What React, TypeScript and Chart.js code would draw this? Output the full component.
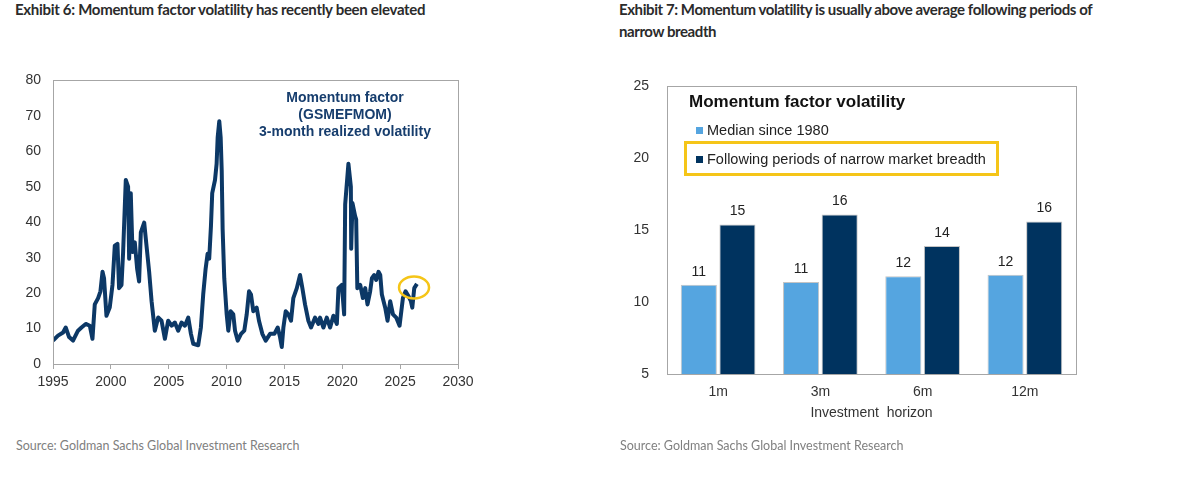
import React, { useEffect, useRef } from "react";
import { Chart, registerables } from "chart.js";

Chart.register(...registerables);

// ---------- Exhibit 6 data ----------
const volYears: number[] = [
  1995.0, 1995.43, 1995.87, 1996.1, 1996.39, 1996.73, 1997.16, 1997.46, 1997.83, 1998.18,
  1998.41, 1998.61, 1998.9, 1999.1, 1999.28, 1999.41, 1999.62, 1999.9, 2000.14, 2000.34,
  2000.57, 2000.71, 2000.92, 2001.06, 2001.29, 2001.49, 2001.58, 2001.72, 2001.87, 2002.07,
  2002.27, 2002.44, 2002.59, 2002.88, 2003.08, 2003.31, 2003.52, 2003.8, 2004.09, 2004.38,
  2004.67, 2004.95, 2005.25, 2005.53, 2005.82, 2006.11, 2006.4, 2006.69, 2006.92, 2007.12,
  2007.55, 2007.78, 2007.98, 2008.19, 2008.36, 2008.5, 2008.65, 2008.76, 2009.0, 2009.14,
  2009.23, 2009.37, 2009.49, 2009.58, 2009.66, 2009.8, 2010.01, 2010.15, 2010.35, 2010.58,
  2010.73, 2010.96, 2011.25, 2011.53, 2011.74, 2011.94, 2012.11, 2012.31, 2012.6, 2012.8,
  2013.09, 2013.38, 2013.76, 2014.13, 2014.42, 2014.62, 2014.77, 2014.91, 2015.11, 2015.34,
  2015.57, 2015.77, 2016.07, 2016.35, 2016.55, 2016.78, 2017.07, 2017.3, 2017.65, 2017.93,
  2018.08, 2018.37, 2018.66, 2018.95, 2019.23, 2019.53, 2019.67, 2019.96, 2020.16, 2020.25,
  2020.53, 2020.74, 2020.77, 2020.88, 2021.11, 2021.2, 2021.3, 2021.55, 2021.78, 2021.98,
  2022.18, 2022.41, 2022.56, 2022.76, 2022.93, 2023.13, 2023.28, 2023.42, 2023.71, 2023.91,
  2024.14, 2024.38, 2024.66, 2024.95, 2025.24, 2025.47, 2025.73, 2025.93, 2026.05, 2026.22,
  2026.45,
];
const volValues: number[] = [
  6.6, 8.0, 8.9, 10.3, 7.6, 6.6, 9.4, 10.3, 11.3, 10.8,
  7.1, 16.8, 18.6, 20.5, 26.0, 24.2, 13.6, 15.9, 22.3, 33.4,
  33.9, 21.4, 22.3, 31.6, 51.9, 50.0, 29.7, 48.2, 31.6, 34.3,
  26.9, 23.3, 37.1, 39.9, 33.4, 26.0, 17.7, 9.4, 13.1, 12.2,
  7.1, 12.2, 10.8, 11.7, 9.4, 11.7, 10.8, 13.1, 8.5, 5.7,
  5.3, 10.3, 19.6, 26.9, 31.1, 29.7, 38.9, 48.2, 51.9, 56.5,
  63.9, 68.5, 63.9, 54.6, 38.0, 24.2, 14.0, 9.4, 14.9, 14.0,
  9.4, 6.6, 8.5, 9.4, 14.0, 20.5, 19.6, 14.9, 15.9, 12.2,
  8.5, 6.6, 8.5, 8.5, 10.3, 7.6, 4.8, 10.3, 14.9, 14.0,
  12.2, 18.6, 21.4, 25.1, 21.4, 16.8, 12.2, 10.3, 13.1, 11.3,
  13.1, 10.3, 13.1, 10.3, 13.6, 11.3, 21.4, 22.3, 14.0, 45.0,
  56.5, 50.0, 32.5, 45.4, 41.7, 40.8, 21.4, 22.3, 18.6, 21.4,
  16.8, 20.5, 24.2, 25.1, 23.7, 26.0, 25.1, 19.6, 15.9, 12.2,
  17.7, 14.0, 13.1, 10.8, 18.6, 20.5, 19.1, 17.7, 15.9, 21.4,
  22.6,
];
const yearTicksMin = 1995;
const yearTicksMax = 2030;
const volAxisMax = 80;
const highlightYear = 2026.2;
const highlightValue = 21.6;

// ---------- Exhibit 7 data ----------
const horizons: string[] = ["1m", "3m", "6m", "12m"];
const medianSince1980: number[] = [11.2, 11.4, 11.8, 11.9];
const narrowBreadth: number[] = [15.4, 16.1, 13.9, 15.6];
const barAxisMin = 5;
const barAxisMax = 25;

const FONT = "'Liberation Sans', Arial, sans-serif";
const TITLE_FONT = "Lato, 'Noto Sans', sans-serif";
const LINE_COLOR = "#0c3866";
const LIGHT_BLUE = "#55a5e0";
const DARK_BLUE = "#00335f";
const YELLOW = "#f5c518";
const AXIS_GRAY = "#a6a6a6";

const boxPlugin = {
  id: "plotBox",
  afterDraw(chart: any) {
    const { ctx, chartArea } = chart;
    ctx.save();
    ctx.strokeStyle = AXIS_GRAY;
    ctx.lineWidth = 1;
    ctx.strokeRect(
      Math.round(chartArea.left) + 0.5,
      Math.round(chartArea.top) + 0.5,
      Math.round(chartArea.right - chartArea.left),
      Math.round(chartArea.bottom - chartArea.top)
    );
    ctx.restore();
  },
};

const ellipsePlugin = {
  id: "highlightEllipse",
  afterDatasetsDraw(chart: any) {
    const { ctx, scales } = chart;
    const cx = scales.x.getPixelForValue(highlightYear);
    const cy = scales.y.getPixelForValue(highlightValue);
    ctx.save();
    ctx.strokeStyle = YELLOW;
    ctx.lineWidth = 2.5;
    ctx.beginPath();
    ctx.ellipse(cx, cy, 15, 11, 0, 0, Math.PI * 2);
    ctx.stroke();
    ctx.restore();
  },
};

const barLabelPlugin = {
  id: "barLabels",
  afterDatasetsDraw(chart: any) {
    const { ctx } = chart;
    ctx.save();
    ctx.font = `14px ${FONT}`;
    ctx.fillStyle = "#222";
    ctx.textAlign = "center";
    ctx.textBaseline = "bottom";
    chart.data.datasets.forEach((ds: any, i: number) => {
      const meta = chart.getDatasetMeta(i);
      meta.data.forEach((el: any, j: number) => {
        ctx.fillText(String(Math.round(ds.data[j])), el.x, el.y - 6);
      });
    });
    ctx.restore();
  },
};

function LineChart() {
  const ref = useRef<HTMLCanvasElement>(null);
  useEffect(() => {
    if (!ref.current) return;
    const chart = new Chart(ref.current, {
      type: "line",
      data: {
        datasets: [
          {
            label: "Momentum factor 3-month realized volatility",
            data: volYears.map((x, i) => ({ x, y: volValues[i] })),
            borderColor: LINE_COLOR,
            borderWidth: 4,
            pointRadius: 0,
            tension: 0,
            fill: false,
            borderJoinStyle: "round",
          } as any,
        ],
      },
      options: {
        animation: false,
        responsive: true,
        maintainAspectRatio: false,
        layout: { padding: { left: 0, top: 15, right: 22, bottom: 0 } },
        plugins: { legend: { display: false }, tooltip: { enabled: false } },
        scales: {
          x: {
            type: "linear",
            min: yearTicksMin,
            max: yearTicksMax,
            ticks: {
              stepSize: 5,
              callback: (v: any) => String(v),
              font: { family: FONT, size: 14 },
              color: "#333",
              padding: 5,
              maxRotation: 0,
            },
            grid: { display: true, drawOnChartArea: false, drawTicks: true, tickLength: 5, color: AXIS_GRAY },
            border: { color: AXIS_GRAY },
            afterFit: (s: any) => {
              s.height = 46;
            },
          },
          y: {
            min: 0,
            max: volAxisMax,
            ticks: {
              stepSize: 10,
              font: { family: FONT, size: 14 },
              color: "#333",
              padding: 12,
            },
            grid: { display: false, drawTicks: false },
            border: { color: AXIS_GRAY },
            afterFit: (s: any) => {
              s.width = 53;
            },
          },
        },
      } as any,
      plugins: [boxPlugin, ellipsePlugin],
    });
    return () => chart.destroy();
  }, []);
  return <canvas ref={ref} />;
}

function BarChart() {
  const ref = useRef<HTMLCanvasElement>(null);
  useEffect(() => {
    if (!ref.current) return;
    const chart = new Chart(ref.current, {
      type: "bar",
      data: {
        labels: horizons,
        datasets: [
          {
            label: "Median since 1980",
            data: medianSince1980,
            backgroundColor: LIGHT_BLUE,
            borderColor: "#c4c4c4",
            borderWidth: 1,
            categoryPercentage: 0.755,
            barPercentage: 0.935,
          },
          {
            label: "Following periods of narrow market breadth",
            data: narrowBreadth,
            backgroundColor: DARK_BLUE,
            borderColor: "#c4c4c4",
            borderWidth: 1,
            categoryPercentage: 0.755,
            barPercentage: 0.935,
          },
        ],
      },
      options: {
        animation: false,
        responsive: true,
        maintainAspectRatio: false,
        layout: { padding: { left: 0, top: 24, right: 14, bottom: 0 } },
        plugins: { legend: { display: false }, tooltip: { enabled: false } },
        scales: {
          x: {
            ticks: { font: { family: FONT, size: 14 }, color: "#333", padding: 10 },
            grid: { display: false, drawTicks: false },
            border: { color: AXIS_GRAY },
            afterFit: (s: any) => {
              s.height = 56;
            },
          },
          y: {
            min: barAxisMin,
            max: barAxisMax,
            ticks: { stepSize: 5, font: { family: FONT, size: 14 }, color: "#333", padding: 18 },
            grid: { display: false, drawTicks: false },
            border: { color: AXIS_GRAY },
            afterFit: (s: any) => {
              s.width = 57;
            },
          },
        },
      } as any,
      plugins: [boxPlugin, barLabelPlugin],
    });
    return () => chart.destroy();
  }, []);
  return <canvas ref={ref} />;
}

const abs = (s: React.CSSProperties): React.CSSProperties => ({ position: "absolute", ...s });

export default function App() {
  const titleStyle: React.CSSProperties = {
    fontFamily: TITLE_FONT,
    fontWeight: 700,
    fontSize: 15,
    letterSpacing: "-0.3px",
    color: "#2b2b2b",
    lineHeight: "22px",
    whiteSpace: "nowrap",
  };
  const sourceStyle: React.CSSProperties = {
    fontFamily: TITLE_FONT,
    fontSize: 12.5,
    color: "#808080",
    whiteSpace: "nowrap",
    lineHeight: "16px",
  };
  const legendText: React.CSSProperties = {
    fontFamily: FONT,
    fontSize: 14.5,
    color: "#222",
    lineHeight: "18px",
    whiteSpace: "nowrap",
  };
  return (
    <div style={abs({ left: 0, top: 0, width: 1200, height: 485, background: "#fff", overflow: "hidden" })}>
      <div style={abs({ left: 15, top: -2, ...titleStyle })}>
        Exhibit 6: Momentum factor volatility has recently been elevated
      </div>
      <div style={abs({ left: 619, top: -2, ...titleStyle, letterSpacing: "-0.42px" })}>
        Exhibit 7: Momentum volatility is usually above average following periods of
        <br />
        narrow breadth
      </div>

      <div style={abs({ left: 0, top: 60, width: 480, height: 350 })}>
        <LineChart />
      </div>
      <div
        style={abs({
          left: 235,
          top: 88.5,
          width: 220,
          textAlign: "center",
          fontFamily: FONT,
          fontWeight: 700,
          fontSize: 14,
          lineHeight: "17px",
          color: "#163d6d",
          whiteSpace: "nowrap",
        })}
      >
        Momentum factor
        <br />
        (GSMEFMOM)
        <br />
        3-month realized volatility
      </div>

      <div style={abs({ left: 610, top: 60, width: 480, height: 370 })}>
        <BarChart />
      </div>
      <div
        style={abs({
          left: 689,
          top: 91.7,
          fontFamily: FONT,
          fontWeight: 700,
          fontSize: 17,
          lineHeight: "20px",
          color: "#111",
          whiteSpace: "nowrap",
        })}
      >
        Momentum factor volatility
      </div>
      <div style={abs({ left: 696, top: 126.5, width: 7, height: 7, background: LIGHT_BLUE })} />
      <div style={abs({ left: 707, top: 120.7, ...legendText })}>Median since 1980</div>
      <div
        style={abs({
          left: 684,
          top: 141,
          width: 315,
          height: 35,
          border: `3px solid ${YELLOW}`,
          boxSizing: "border-box",
        })}
      />
      <div style={abs({ left: 696, top: 156, width: 7, height: 7, background: DARK_BLUE })} />
      <div style={abs({ left: 707, top: 150, ...legendText })}>Following periods of narrow market breadth</div>
      <div
        style={abs({
          left: 771.5,
          top: 403,
          width: 200,
          textAlign: "center",
          fontFamily: FONT,
          fontSize: 14,
          lineHeight: "18px",
          color: "#333",
          whiteSpace: "pre",
        })}
      >
        {"Investment  horizon"}
      </div>

      <div style={abs({ left: 16, top: 438, ...sourceStyle })}>Source: Goldman Sachs Global Investment Research</div>
      <div style={abs({ left: 620, top: 438, ...sourceStyle })}>Source: Goldman Sachs Global Investment Research</div>
    </div>
  );
}
